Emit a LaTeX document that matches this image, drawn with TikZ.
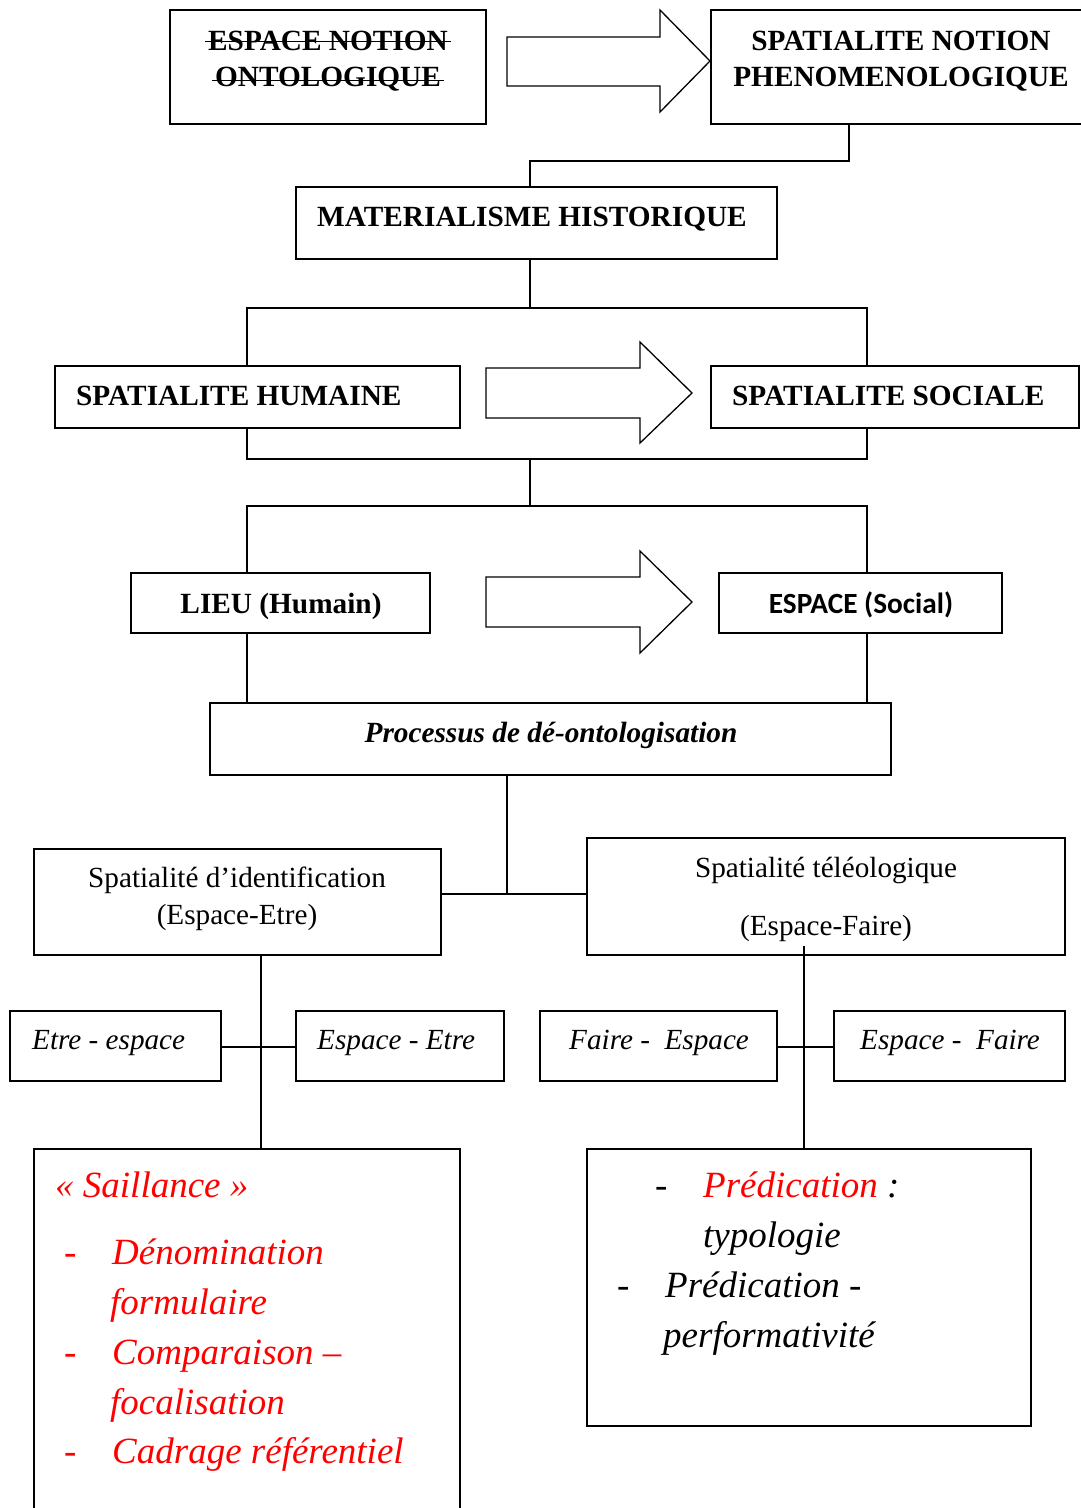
\documentclass[tikz,border=0pt]{standalone}
\usepackage{fontspec}
\setmainfont{Liberation Serif}
\newfontfamily\calib{Carlito}
\usetikzlibrary{fit}
\tikzset{
  x=1pt, y=-1pt,
  box/.style={draw, line width=1.5pt, inner sep=0pt, fit={#1}},
  conn/.style={line width=1.5pt},
  barrow/.style={draw, line width=1.3pt, fill=white, line join=miter},
  hdr/.style={font=\fontsize{29.3}{34}\selectfont\bfseries, inner sep=0pt, anchor=base},
  lbl/.style={font=\fontsize{29.2}{34}\selectfont, inner sep=0pt, anchor=base},
  itl/.style={font=\fontsize{29.2}{34}\selectfont\itshape, inner sep=0pt, anchor=base west},
  redt/.style={font=\fontsize{37}{44}\selectfont\itshape, text=red, inner sep=0pt, anchor=base west},
  blkt/.style={font=\fontsize{37}{44}\selectfont\itshape, text=black, inner sep=0pt, anchor=base west},
}
\begin{document}
\begin{tikzpicture}
\useasboundingbox (0,0) rectangle (1081,1508);
\clip (0,0) rectangle (1081,1508);
\fill[white] (0,0) rectangle (1081,1508);

% helper coordinates
\coordinate (x247) at (247,0);
\coordinate (x261) at (261,0);
\coordinate (x530) at (530,0);
\coordinate (x804) at (804,0);
\coordinate (x849) at (849,0);
\coordinate (x867) at (867,0);
\coordinate (bus1) at (530,308);
\coordinate (bus2) at (530,459);
\coordinate (bus3) at (530,506);
\coordinate (j1) at (507,894);
\coordinate (j2) at (261,1047);
\coordinate (j3) at (804,1047);

% boxes
\node[box={(170,10) (486,124)}] (A) {};
\node[box={(711,10) (1095,124)}] (B) {};
\node[box={(296,187) (777,259)}] (C) {};
\node[box={(55,366) (460,428)}] (D) {};
\node[box={(711,366) (1079,428)}] (E) {};
\node[box={(131,573) (430,633)}] (F) {};
\node[box={(719,573) (1002,633)}] (G) {};
\node[box={(210,703) (891,775)}] (H) {};
\node[box={(34,849) (441,955)}] (I) {};
\node[box={(587,838) (1065,955)}] (J) {};
\node[box={(10,1011) (221,1081)}] (L) {};
\node[box={(296,1011) (504,1081)}] (M) {};
\node[box={(540,1011) (777,1081)}] (N) {};
\node[box={(834,1011) (1065,1081)}] (O) {};
\node[box={(34,1149) (460,1530)}] (K) {};
\node[box={(587,1149) (1031,1426)}] (P) {};

% block arrows
\draw[barrow] (507,37) -- (660,37) -- (660,10) -- (710,61) -- (660,112) -- (660,86) -- (507,86) -- cycle;
\draw[barrow] (486,368) -- (640,368) -- (640,342) -- (692,393) -- (640,443) -- (640,418) -- (486,418) -- cycle;
\draw[barrow] (486,577) -- (640,577) -- (640,551) -- (692,602) -- (640,653) -- (640,627) -- (486,627) -- cycle;

% connectors
\draw[conn] (B.south -| x849) -- ++(0,36) -| (C.north -| x530);
\draw[conn] (C.south -| x530) -- (bus1);
\draw[conn] (D.north -| x247) |- (bus1) -| (E.north -| x867);
\draw[conn] (D.south -| x247) |- (bus2) -| (E.south -| x867);
\draw[conn] (bus2) -- (bus3);
\draw[conn] (F.north -| x247) |- (bus3) -| (G.north -| x867);
\draw[conn] (F.south -| x247) -- (H.north -| x247);
\draw[conn] (G.south -| x867) -- (H.north -| x867);
\draw[conn] (H.south -| j1) -- (j1);
\draw[conn] (I.east |- j1) -- (J.west |- j1);
\draw[conn] (I.south -| x261) -- (K.north -| x261);
\draw[conn] (L.east |- j2) -- (M.west |- j2);
\draw[conn] ([yshift=10pt]J.south -| x804) -- (P.north -| x804);
\draw[conn] (N.east |- j3) -- (O.west |- j3);

% texts
\node[hdr] (ta1) at (328,50) {ESPACE NOTION};
\node[hdr] (ta2) at (328,86) {ONTOLOGIQUE};
\draw[line width=1.6pt, shorten <=-3pt, shorten >=-3pt] ([yshift=-1pt]ta1.west) -- ([yshift=-1pt]ta1.east);
\draw[line width=1.6pt, shorten <=-3pt, shorten >=-3pt] ([yshift=-2pt]ta2.west) -- ([yshift=-2pt]ta2.east);
\node[hdr] (tb1) at (901,50) {SPATIALITE NOTION};
\node[hdr] (tb2) at (901,86) {PHENOMENOLOGIQUE};
\node[hdr] (tc) at (532,226) {MATERIALISME HISTORIQUE};
\node[hdr, anchor=base west] (td) at (76,405) {SPATIALITE HUMAINE};
\node[hdr, anchor=base west] (te) at (732,405) {SPATIALITE SOCIALE};
\node[hdr] (tf) at (281,613) {LIEU (Humain)};
\node[font=\fontsize{29.3}{34}\selectfont\calib\bfseries, inner sep=0pt, anchor=base] (tg) at (861,613) {ESPACE (Social)};
\node[hdr, font=\fontsize{29.3}{34}\selectfont\bfseries\itshape] (th) at (551,742) {Processus de dé-ontologisation};
\node[lbl] (ti1) at (237,887) {Spatialité d’identification};
\node[lbl] (ti2) at (237,924) {(Espace-Etre)};
\node[lbl] (tj1) at (826,877) {Spatialité téléologique};
\node[lbl] (tj2) at (826,935) {(Espace-Faire)};
\node[itl] (tl) at (32,1049) {Etre - espace};
\node[itl] (tm) at (317,1049) {Espace - Etre};
\node[itl] (tn) at (569,1049) {Faire -\ \ Espace};
\node[itl] (to) at (860,1049) {Espace -\ \ Faire};

% red list
\node[redt] (k0) at (55,1197) {« Saillance »};
\node[redt] (k1d) at (64,1264) {-};
\node[redt] (k1) at (112,1264) {Dénomination};
\node[redt] (k2) at (110,1314) {formulaire};
\node[redt] (k3d) at (64,1364) {-};
\node[redt] (k3) at (112,1364) {Comparaison –};
\node[redt] (k4) at (110,1414) {focalisation};
\node[redt] (k5d) at (64,1463) {-};
\node[redt] (k5) at (112,1463) {Cadrage référentiel};

% right list
\node[blkt] (p1d) at (655,1197) {-};
\node[blkt] (p1) at (703,1197) {\textcolor{red}{Prédication} :};
\node[blkt] (p2) at (703,1247) {typologie};
\node[blkt] (p3d) at (617,1297) {-};
\node[blkt] (p3) at (665,1297) {Prédication -};
\node[blkt] (p4) at (663,1347) {performativité};
\end{tikzpicture}
\end{document}
